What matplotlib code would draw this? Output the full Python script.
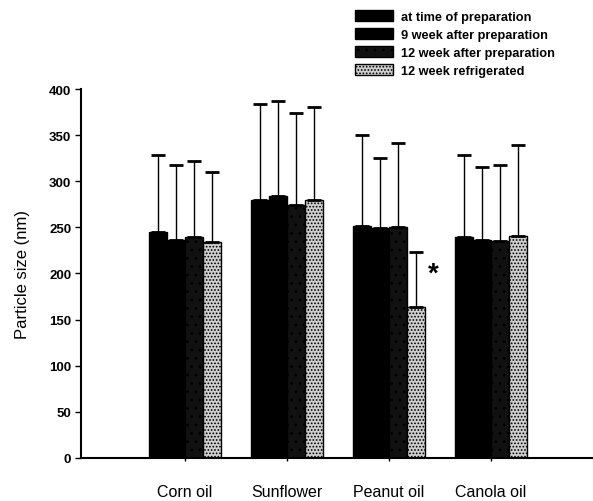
import numpy as np
import matplotlib.pyplot as plt
import matplotlib as mpl

oils = ['Corn oil', 'Sunflower', 'Peanut oil', 'Canola oil']
series = ['at time of preparation', '9 week after preparation',
          '12 week after preparation', '12 week refrigerated']
means = [
    [245, 280, 251, 240],
    [236, 284, 249, 236],
    [240, 274, 250, 235],
    [234, 280, 164, 241],
]
errs = [
    [84, 104, 99, 88],
    [82, 103, 76, 79],
    [82, 100, 92, 83],
    [76, 100, 59, 98],
]

mpl.rcParams['font.family'] = ['Liberation Sans', 'DejaVu Sans']
mpl.rcParams['hatch.linewidth'] = 0.8

fig = plt.figure(figsize=(5.93, 5.02), dpi=100)
ax = fig.add_axes([0.1366, 0.0857, 0.8634, 0.735])

faces = ['black', 'black', '#111111', '#cfcfcf']
hatches = [None, None, '..', '.....']
hcolors = ['black', 'black', '#2e2e2e', '#7a7a7a']
w = 0.176
x = np.arange(len(oils))
for i in range(4):
    pos = x + (i - 1.5) * w
    mpl.rcParams['hatch.color'] = hcolors[i]
    ax.bar(pos, means[i], w, color=faces[i], edgecolor='black', linewidth=1.0,
           hatch=hatches[i], label=series[i], zorder=2)
    ax.errorbar(pos, means[i], yerr=[np.zeros(4), errs[i]], fmt='none',
                ecolor='black', elinewidth=1.0, capsize=5, capthick=2, zorder=3)

ax.text(2 + 1.5 * w + 0.17, 200, '*', fontsize=20, fontweight='bold',
        ha='center', va='center')

ax.set_xlim(-1.02, 4.0)
ax.set_ylim(0, 400)
ax.set_yticks(np.arange(0, 401, 50))
ax.set_xticks(x)
ax.set_xticklabels(oils, fontsize=11.5)
ax.tick_params(axis='x', length=4, width=1, pad=17, direction='inout')
ax.tick_params(axis='y', length=4, width=1, labelsize=9.5, pad=3)
for t in ax.get_yticklabels():
    t.set_fontweight('bold')
ax.set_ylabel('Particle size (nm)', fontsize=12, labelpad=14)
for s in ['top', 'right']:
    ax.spines[s].set_visible(False)
for s in ['left', 'bottom']:
    ax.spines[s].set_linewidth(1.5)

leg = fig.legend(loc='upper left', bbox_to_anchor=(0.59, 0.988), frameon=False,
                 fontsize=9.2, handlelength=3.0, handleheight=0.9,
                 labelspacing=0.42, handletextpad=0.6, borderaxespad=0)
for t in leg.get_texts():
    t.set_fontweight('bold')

fig.savefig('out.png', dpi=100)
